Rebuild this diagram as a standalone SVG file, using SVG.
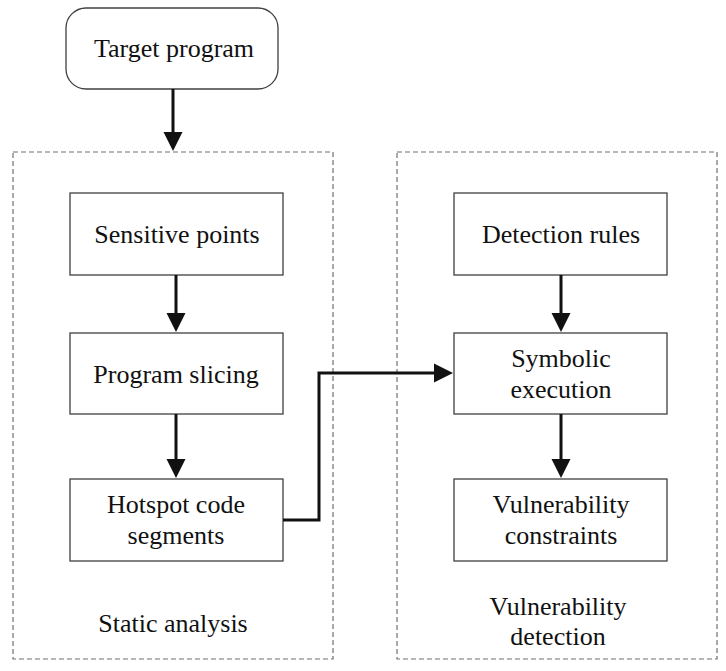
<svg xmlns="http://www.w3.org/2000/svg" width="726" height="671" viewBox="0 0 726 671">
<defs>
<style>
.box{fill:#fff;stroke:#404040;stroke-width:1.3}
.grp{fill:none;stroke:#707070;stroke-width:1.2;stroke-dasharray:5,3}
.lbl{font-family:"Liberation Serif","Times New Roman",serif;font-size:26px;fill:#111;text-anchor:middle}
.conn{fill:none;stroke:#111;stroke-width:3}
</style>
<marker id="ah" markerUnits="userSpaceOnUse" markerWidth="20" markerHeight="20" viewBox="0 0 20 20" refX="10" refY="10" orient="auto">
<path d="M0,0.5 L19,10 L0,19.5 Z" fill="#111"/>
</marker>
</defs>
<rect width="726" height="671" fill="#fff"/>
<g id="static-analysis">
<rect class="grp" x="13" y="152" width="320" height="507"/>
<text class="lbl" x="173" y="632">Static analysis</text>
</g>
<g id="vulnerability-detection">
<rect class="grp" x="397" y="152" width="320" height="507"/>
<text class="lbl" x="558" y="615">Vulnerability</text>
<text class="lbl" x="558" y="645">detection</text>
</g>
<g id="target-program">
<rect class="box" x="66" y="8" width="212" height="81" rx="20"/>
<text class="lbl" x="174" y="57">Target program</text>
</g>
<g id="sensitive-points">
<rect class="box" x="70" y="193" width="213" height="82"/>
<text class="lbl" x="177" y="243">Sensitive points</text>
</g>
<g id="program-slicing">
<rect class="box" x="70" y="333" width="213" height="81"/>
<text class="lbl" x="176" y="383">Program slicing</text>
</g>
<g id="hotspot-code-segments">
<rect class="box" x="70" y="479" width="213" height="82"/>
<text class="lbl" x="176" y="513">Hotspot code</text>
<text class="lbl" x="176" y="544">segments</text>
</g>
<g id="detection-rules">
<rect class="box" x="454" y="193" width="213" height="82"/>
<text class="lbl" x="561" y="243">Detection rules</text>
</g>
<g id="symbolic-execution">
<rect class="box" x="454" y="333" width="213" height="81"/>
<text class="lbl" x="561" y="367">Symbolic</text>
<text class="lbl" x="561" y="398">execution</text>
</g>
<g id="vulnerability-constraints">
<rect class="box" x="454" y="479" width="213" height="82"/>
<text class="lbl" x="561" y="513">Vulnerability</text>
<text class="lbl" x="561" y="544">constraints</text>
</g>
<g id="connectors">
<path class="conn" d="M173,89 V142" marker-end="url(#ah)"/>
<path class="conn" d="M176,275 V323" marker-end="url(#ah)"/>
<path class="conn" d="M176,414 V469" marker-end="url(#ah)"/>
<path class="conn" d="M561,275 V323" marker-end="url(#ah)"/>
<path class="conn" d="M561,414 V469" marker-end="url(#ah)"/>
<path class="conn" d="M283,520 H319 V373 H444" marker-end="url(#ah)"/>
</g>
</svg>
